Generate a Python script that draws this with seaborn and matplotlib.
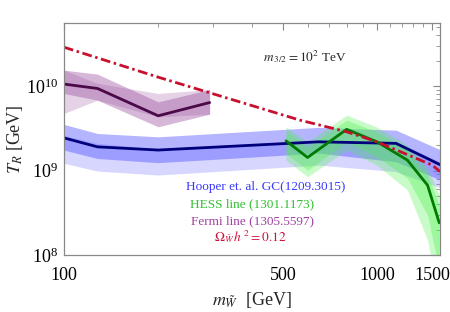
import numpy as np
import pandas as pd
import matplotlib
matplotlib.use("Agg")
import matplotlib.pyplot as plt
import seaborn as sns

# ---------------- data ----------------
# Red relic-abundance line (Omega h^2 = 0.12)
red_m = [100, 200, 567, 800, 1000, 1500, 1590]
red_T = [2.9e10, 1.28e10, 3.96e9, 2.88e9, 2.19e9, 1.16e9, 9.7e8]

# Hooper et al. GC (blue)
hoop_m = [100, 128, 200, 650, 1150, 1600]
hoop_T = [2.44e9, 1.91e9, 1.75e9, 2.19e9, 2.10e9, 1.16e9]
hoop_A_hi = [3.52e9, 2.75e9, 2.51e9, 3.25e9, 3.01e9, 1.75e9]
hoop_A_lo = [1.75e9, 1.39e9, 1.24e9, 1.61e9, 1.27e9, 7.7e8]
hoop_B_hi = [2.6e9, 2.1e9, 1.8e9, 2.3e9, 2.2e9, 1.25e9]
hoop_B_lo = [1.22e9, 9.86e8, 8.85e8, 1.16e9, 9.7e8, 6.2e8]

# HESS line (green)
hess_m = [512, 600, 800, 1000, 1250, 1450, 1580]
hess_T = [2.25e9, 1.43e9, 3.08e9, 2.19e9, 1.33e9, 6.7e8, 2.4e8]
hess_O_hi = [3.30e9, 2.19e9, 4.54e9, 3.27e9, 2.00e9, 1.07e9, 5.13e8]
hess_O_lo = [1.33e9, 8.45e8, 1.75e9, 1.16e9, 5.88e8, 1.5e8, 2.9e7]
hess_I_hi = [2.93e9, 1.90e9, 3.96e9, 2.86e9, 1.75e9, 8.85e8, 3.9e8]
hess_I_lo = [1.61e9, 1.01e9, 2.17e9, 1.45e9, 8.15e8, 2.97e8, 6.6e7]

# Fermi line (purple)
ferm_m = [100, 128, 200, 292]
ferm_T = [1.06e10, 9.4e9, 4.46e9, 6.4e9]
ferm_D_hi = [1.55e10, 1.39e10, 6.52e9, 9.14e9]
ferm_D_lo = [8.2e9, 6.83e9, 3.30e9, 4.66e9]
ferm_L_hi = [1.55e10, 1.08e10, 8.2e9, 9.14e9]
ferm_L_lo = [4.75e9, 6.83e9, 4.33e9, 4.66e9]

legend_texts = ["Hooper et. al. GC(1209.3015)", "HESS line (1301.1173)",
                "Fermi line (1305.5597)", r"$\Omega_{\tilde{W}}\, h^{\,2} = 0.12$"]
xtick_vals = [100, 500, 1000, 1500]
ytick_vals = [1e8, 1e9, 1e10]

# ---------------- style ----------------
sns.set_style("white")
plt.rcParams['font.family'] = ['Liberation Serif', 'DejaVu Serif']
plt.rcParams['mathtext.fontset'] = 'stix'

fig = plt.figure(figsize=(4.5, 3.12), dpi=100)
ax = fig.add_axes([0.142, 0.183, 0.836, 0.743])
ax.set_xscale('log')
ax.set_yscale('log')

# bands
blue_c = (0.35, 0.35, 1.0)
ax.fill_between(hoop_m, hoop_B_lo, hoop_B_hi, color=(0.55, 0.55, 1.0), alpha=0.35, lw=0)
ax.fill_between(hoop_m, hoop_A_lo, hoop_A_hi, color=blue_c, alpha=0.45, lw=0)

green_c = (0.3, 0.95, 0.3)
ax.fill_between(hess_m, hess_O_lo, hess_O_hi, color=green_c, alpha=0.3, lw=0)
ax.fill_between(hess_m, hess_I_lo, hess_I_hi, color=green_c, alpha=0.35, lw=0)

purp_c = (0.6, 0.3, 0.62)
ax.fill_between(ferm_m, ferm_L_lo, ferm_L_hi, color=purp_c, alpha=0.25, lw=0)
ax.fill_between(ferm_m, ferm_D_lo, ferm_D_hi, color=purp_c, alpha=0.4, lw=0)

# lines
sns.lineplot(x=hoop_m, y=hoop_T, ax=ax, color="#00007a", lw=2.0)
sns.lineplot(x=hess_m, y=hess_T, ax=ax, color="#007a00", lw=2.0)
sns.lineplot(x=ferm_m, y=ferm_T, ax=ax, color="#4a0a48", lw=2.0)
sns.lineplot(x=red_m, y=red_T, ax=ax, color="#c8102e", lw=2.0,
             dashes=False)
ax.lines[-1].set_dashes((3.5, 1.3, 0.9, 1.3))

ax.set_xlim(100, 1590)
ax.set_ylim(1e8, 5.6e10)

# ticks
ax.xaxis.set_major_locator(matplotlib.ticker.FixedLocator(xtick_vals))
ax.xaxis.set_major_formatter(matplotlib.ticker.FixedFormatter([str(v) for v in xtick_vals]))
ax.xaxis.set_minor_locator(matplotlib.ticker.FixedLocator(list(range(200, 1600, 100))))
ax.xaxis.set_minor_formatter(matplotlib.ticker.NullFormatter())
ax.yaxis.set_major_locator(matplotlib.ticker.FixedLocator(ytick_vals))
ax.yaxis.set_minor_locator(matplotlib.ticker.LogLocator(base=10, subs=np.arange(2, 10)))
ax.yaxis.set_minor_formatter(matplotlib.ticker.NullFormatter())
ax.tick_params(which='both', direction='in', top=True, right=True, color='#888888',
               labelsize=13, labelcolor='black', pad=4)
ax.tick_params(axis='x', which='both', pad=9)
ax.tick_params(which='major', length=5, width=0.8)
ax.tick_params(which='minor', length=3, width=0.6)
for s in ax.spines.values():
    s.set_color('#888888')
    s.set_linewidth(0.9)

ax.set_xlabel(r"$m_{\tilde{W}}$  [GeV]", fontsize=13, labelpad=4)
ax.set_ylabel(r"$T_R$ [GeV]", fontsize=13, labelpad=1)

# texts
fig.text(305/450, 1-57/312, r"$m_{\,3/2} = 10^2$ TeV", fontsize=9.5, ha='center', va='center')
tcol = ["#3a3aff", "#30c030", "#a040a0", "#d0103c"]
tx = [266, 252, 252, 250]
ty = [187, 204, 221, 237]
for t, c, x, y in zip(legend_texts, tcol, tx, ty):
    fig.text(x/450, 1-y/312, t, color=c, fontsize=9.5, ha='center', va='center')

fig.savefig("out.png", dpi=100)
